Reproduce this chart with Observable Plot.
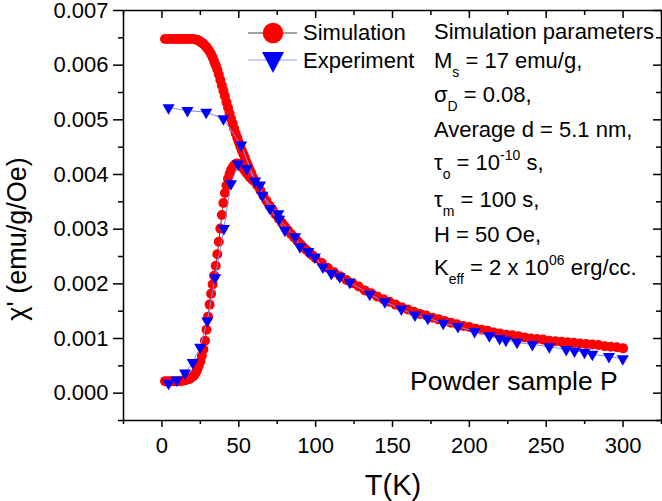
<!DOCTYPE html>
<html>
<head>
<meta charset="utf-8">
<script src="https://cdn.jsdelivr.net/npm/d3@7"></script>
<script src="https://cdn.jsdelivr.net/npm/@observablehq/plot@0.6"></script>
<style>
  html, body { margin: 0; padding: 0; background: #fff; }
  #chart { width: 662px; height: 501px; }
</style>
</head>
<body>
<div id="chart"></div>
<script>
// ---------------- DATA (chi values in units of 1e-3 emu/g/Oe) ----------------
// Simulation, lower (ZFC-like) branch, incl. the common paramagnetic tail
const simLowT = [2,4,6,8,10,12,14,16,18,
  20,21,22,23,24,25,26,27,28,29,30,31,32,33,34,35,36,37,38,39,40,
  41,42,43,44,45,46,47,48,49,50,51,52,53,54,55,56,57,58,59,60,
  62,64,66,68,70,72,74,76,78,80,82,84,86,88,90,92,94,96,98,
  100,104,108,112,116,120,124,128,132,136,140,144,148,152,156,160,164,168,172,176,
  180,184,188,192,196,200,204,208,212,216,220,224,228,232,236,240,244,248,252,256,
  260,264,268,272,276,280,284,288,292,296,300];
const simLowChi = [0.22,0.22,0.22,0.22,0.22,0.22,0.23,0.24,0.26,
  0.30,0.33,0.37,0.43,0.50,0.58,0.68,0.80,0.96,1.16,1.40,1.62,1.82,1.99,2.15,2.33,2.54,2.77,3.01,3.26,3.48,
  3.66,3.80,3.92,4.01,4.08,4.13,4.17,4.19,4.20,4.19,4.17,4.14,4.11,4.07,4.03,4.00,3.96,3.93,3.90,3.88,
  3.80,3.71,3.61,3.52,3.43,3.35,3.27,3.19,3.12,3.05,2.98,2.91,2.85,2.79,2.73,2.67,2.62,2.57,2.52,
  2.47,2.38,2.29,2.21,2.14,2.07,2.01,1.95,1.88,1.83,1.77,1.72,1.67,1.62,1.57,1.53,1.49,1.45,1.42,1.38,
  1.35,1.32,1.29,1.26,1.23,1.21,1.18,1.16,1.14,1.11,1.09,1.07,1.06,1.04,1.02,1.00,0.99,0.98,0.96,0.95,
  0.94,0.93,0.92,0.91,0.90,0.89,0.88,0.86,0.85,0.84,0.82];
// Simulation, upper (FC-like) branch
const simUpT = [2,4,6,8,10,12,14,16,18,20,22,
  23,24,25,26,27,28,29,30,31,32,33,34,35,36,37,38,39,40,
  41,42,43,44,45,46,47,48,49,50,51,52,53,54,55,56,57,58,59,60];
const simUpChi = [6.48,6.48,6.48,6.48,6.48,6.48,6.48,6.48,6.48,6.48,6.47,
  6.46,6.45,6.43,6.41,6.39,6.36,6.33,6.29,6.25,6.20,6.14,6.07,6.00,5.92,5.83,5.73,5.63,5.53,
  5.43,5.32,5.22,5.12,5.02,4.93,4.84,4.75,4.67,4.59,4.51,4.44,4.37,4.30,4.23,4.16,4.09,4.03,3.96,3.90];
// Experiment, upper branch
const expUpT = [4.3,16.6,28.8,40.0,51.5,60.6,70.3,80.0];
const expUpChi = [5.22,5.17,5.14,5.02,4.54,3.88,3.38,2.98];
// Experiment, lower branch + tail
const expLowT = [4.3,9.7,15.0,20.0,24.9,29.5,34.6,40.3,44.9,49.6,55.2,63.8,65.3,75.7,76.2,86.6,89.8,
  95.2,99.5,104.7,110.2,115.7,122.2,135.2,145.0,155.8,164.6,173.0,183.0,192.6,203.4,213.0,219.7,
  223.8,231.0,241.0,252.0,263.0,268.4,274.9,280.0,290.8,299.8];
const expLowChi = [0.18,0.24,0.37,0.56,0.84,1.32,2.11,3.01,3.83,4.19,4.11,3.81,3.62,3.28,3.18,2.86,2.68,
  2.59,2.49,2.31,2.19,2.13,2.03,1.81,1.67,1.54,1.43,1.37,1.28,1.22,1.13,1.05,1.00,
  0.97,0.93,0.89,0.85,0.80,0.77,0.75,0.71,0.67,0.63];

const xTicks = [0,50,100,150,200,250,300];
const xMinor = [-25,25,75,125,175,225,275,325];
const yTicks = [0,0.001,0.002,0.003,0.004,0.005,0.006,0.007];
const yMinor = [-0.0005,0.0005,0.0015,0.0025,0.0035,0.0045,0.0055,0.0065];

const seriesNames = ["Simulation","Experiment"];
const xLabel = "T(K)";
const yLabel = "χ' (emu/g/Oe)";
const sampleLabel = "Powder sample P";
const paramLines = [
  [["Simulation parameters"]],
  [["M"],["s","sub"],[" = 17 emu/g,"]],
  [["σ"],["D","sub"],[" = 0.08,"]],
  [["Average d = 5.1 nm,"]],
  [["τ"],["o","sub"],[" = 10"],["-10","sup"],[" s,"]],
  [["τ"],["m","sub"],[" = 100 s,"]],
  [["H = 50 Oe,"]],
  [["K"],["eff","sub"],[" = 2 x 10"],["06","sup"],[" erg/cc."]]
];

// ---------------- build tables ----------------
const toRows = (T, chi, branch) => T.map((t, i) => ({T: t, chi: chi[i] * 1e-3, branch}));
const sim = [...toRows(simLowT, simLowChi, "low"), ...toRows(simUpT, simUpChi, "up")];
const exp = [...toRows(expLowT, expLowChi, "low"), ...toRows(expUpT, expUpChi, "up")];

const triangleDown = {
  draw(ctx, size) {
    const y = Math.sqrt(size / (Math.sqrt(3) * 3));
    ctx.moveTo(0, 2 * y);
    ctx.lineTo(-Math.sqrt(3) * y, -y);
    ctx.lineTo(Math.sqrt(3) * y, -y);
    ctx.closePath();
  }
};

// ---------------- layout ----------------
const W = 662, H = 501, mL = 123, mR = 1, mT = 10, mB = 81;
const fw = W - mL - mR, fh = H - mT - mB;
const FONT = "'Liberation Sans', Arial, Helvetica, sans-serif";

const svg = Plot.plot({
  width: W, height: H,
  marginLeft: mL, marginRight: mR, marginTop: mT, marginBottom: mB,
  style: {fontFamily: FONT, fontSize: "22px", color: "#000", background: "#fff"},
  x: {domain: [-25, 325]},
  y: {domain: [-0.0005, 0.007]},
  marks: [
    // simulation
    Plot.line(sim, {x: "T", y: "chi", z: "branch", stroke: "#4a4a4a", strokeWidth: 1}),
    Plot.dot(sim, {x: "T", y: "chi", r: 5, fill: "#ff0000", stroke: "none"}),
    // experiment
    Plot.line(exp, {x: "T", y: "chi", z: "branch", stroke: "#7d8cff", strokeWidth: 1}),
    Plot.dot(exp, {x: "T", y: "chi", r: 4.5, symbol: triangleDown, fill: "#0000ff", stroke: "none"}),
    // frame
    Plot.frame({stroke: "#000", strokeWidth: 1.5}),
    // bottom axis (outward) and top mirror (inward)
    Plot.axisX(xTicks, {tickSize: 7, tickPadding: 10, strokeWidth: 1.5, label: null, fontSize: 22}),
    Plot.tickX(xMinor, {x: d => d, insetTop: fh, insetBottom: -4, strokeWidth: 1.5}),
    Plot.tickX(xTicks, {x: d => d, insetBottom: fh - 8, strokeWidth: 1.5}),
    Plot.tickX(xMinor, {x: d => d, insetBottom: fh - 5, strokeWidth: 1.5}),
    // left axis (outward) and right mirror (inward)
    Plot.axisY(yTicks, {tickSize: 10, tickPadding: 5, strokeWidth: 1.5, label: null, fontSize: 22,
      tickFormat: d3.format(".3f")}),
    Plot.tickY(yMinor, {y: d => d, insetRight: fw, insetLeft: -5, strokeWidth: 1.5}),
    Plot.tickY(yTicks, {y: d => d, insetLeft: fw - 8, strokeWidth: 1.5}),
    Plot.tickY(yMinor, {y: d => d, insetLeft: fw - 5, strokeWidth: 1.5})
  ]
});

document.getElementById("chart").appendChild(svg);

// ---------------- annotations (legend, labels, parameter box) ----------------
const s = d3.select(svg);
const g = s.append("g").attr("font-family", FONT).attr("fill", "#000").attr("text-anchor", "start");

// axis titles
g.append("text").attr("x", 393).attr("y", 495).attr("text-anchor", "middle")
  .attr("font-size", 29).text(xLabel);
g.append("text").attr("transform", "translate(26,239) rotate(-90)").attr("text-anchor", "middle")
  .attr("font-size", 27).text(yLabel);

// legend
const leg = g.append("g");
leg.append("line").attr("x1", 248).attr("x2", 297).attr("y1", 33).attr("y2", 33)
  .attr("stroke", "#808080").attr("stroke-width", 1.5);
leg.append("circle").attr("cx", 273).attr("cy", 33).attr("r", 10.3).attr("fill", "#ff0000");
leg.append("text").attr("x", 303).attr("y", 40).attr("font-size", 22).text(seriesNames[0]);
leg.append("line").attr("x1", 248).attr("x2", 297).attr("y1", 60).attr("y2", 60)
  .attr("stroke", "#8c9bff").attr("stroke-width", 1.2);
leg.append("path").attr("d", "M262,52 L284,52 L273,73 Z").attr("fill", "#0000ff");
leg.append("text").attr("x", 303).attr("y", 68).attr("font-size", 22).text(seriesNames[1]);

// parameter block
const baselines = [39, 68, 102, 137, 170, 207, 242, 275];
paramLines.forEach((parts, i) => {
  const t = g.append("text").attr("x", 434).attr("y", baselines[i]).attr("font-size", 22);
  parts.forEach(([txt, kind]) => {
    const sp = t.append("tspan").text(txt);
    if (kind === "sub") sp.attr("y", baselines[i] + 9).attr("font-size", 14);
    else if (kind === "sup") sp.attr("y", baselines[i] - 10).attr("font-size", 14);
    else sp.attr("y", baselines[i]);
  });
});

// sample label
g.append("text").attr("x", 410).attr("y", 390).attr("font-size", 26.5).text(sampleLabel);
</script>
</body>
</html>
